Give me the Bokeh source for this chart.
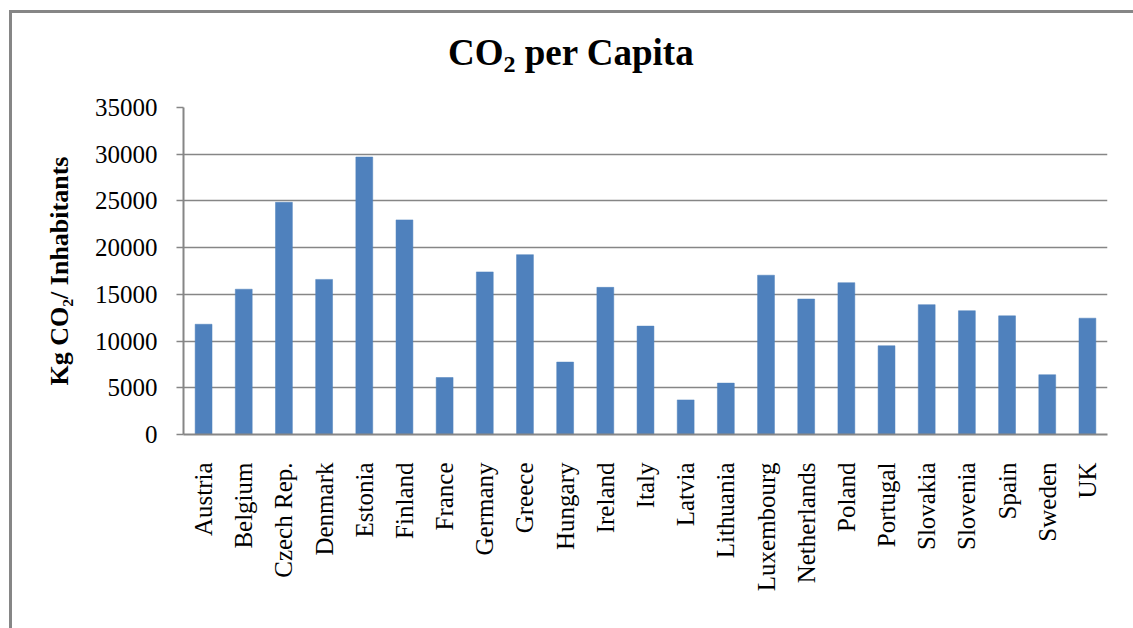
import math
from bokeh.plotting import figure
from bokeh.layouts import column
from bokeh.models import ColumnDataSource, FixedTicker, Div
from bokeh.embed import file_html
from bokeh.resources import INLINE

# CO2 emissions per inhabitant (kg), by country
countries = ["Austria", "Belgium", "Czech Rep.", "Denmark", "Estonia", "Finland",
             "France", "Germany", "Greece", "Hungary", "Ireland", "Italy",
             "Latvia", "Lithuania", "Luxembourg", "Netherlands", "Poland",
             "Portugal", "Slovakia", "Slovenia", "Spain", "Sweden", "UK"]
co2_per_capita = [11800, 15550, 24850, 16600, 29700, 22970,
                  6100, 17400, 19250, 7750, 15750, 11600,
                  3700, 5500, 17050, 14500, 16250,
                  9500, 13900, 13250, 12700, 6400, 12450]
y_ticks = [0, 5000, 10000, 15000, 20000, 25000, 30000, 35000]

FONT = "Liberation Serif"
GREY = "#868686"
EDGE = 3          # chart-area border thickness (top and left)
OFF_X, OFF_Y = 9, 10
INNER_W = 1133 - OFF_X - EDGE
INNER_H = 628 - OFF_Y - EDGE
HEADER_H = 80     # strip holding the chart title
FRAME_LEFT = 183

# chart title with a true subscript
header = Div(
    text=(f'<div style="padding:21px 0 0 {448 - OFF_X - EDGE}px; '
          f"font-family:'{FONT}'; font-size:37px; font-weight:bold; color:black; "
          'line-height:37px; white-space:nowrap;">'
          'CO<sub style="font-size:0.65em; vertical-align:-0.3em; line-height:0;">2</sub>'
          ' per Capita</div>'),
    width=INNER_W, height=HEADER_H, margin=0,
)

source = ColumnDataSource(data=dict(country=countries, value=co2_per_capita))

p = figure(
    x_range=countries, y_range=(0, 35000),
    width=INNER_W, height=INNER_H - HEADER_H,
    output_backend="svg", toolbar_location=None,
    min_border_left=FRAME_LEFT - OFF_X - EDGE, min_border_right=26,
    min_border_top=107 - OFF_Y - EDGE - HEADER_H, min_border_bottom=194,
)
p.margin = 0

p.vbar(x="country", top="value", width=0.42, source=source,
       fill_color="#4F81BD", line_color="#4F81BD", line_width=0.5)

# background and frame
p.outline_line_color = None
p.background_fill_color = "white"
p.border_fill_color = "white"

# horizontal gridlines
p.xgrid.grid_line_color = None
p.ygrid.grid_line_color = GREY
p.ygrid.grid_line_width = 1.4
p.ygrid.ticker = FixedTicker(ticks=y_ticks)

# y axis
p.yaxis.ticker = FixedTicker(ticks=y_ticks)
p.yaxis.axis_line_color = GREY
p.yaxis.axis_line_width = 2
p.yaxis.major_tick_line_color = GREY
p.yaxis.major_tick_line_width = 1.4
p.yaxis.major_tick_out = 7
p.yaxis.major_tick_in = 0
p.yaxis.minor_tick_line_color = None
p.yaxis.major_label_standoff = 19
p.yaxis.major_label_text_font = FONT
p.yaxis.major_label_text_font_size = "25px"
p.yaxis.major_label_text_color = "black"
p.yaxis.axis_label = "Kg CO\u2082/ Inhabitants"
p.yaxis.axis_label_text_font = FONT
p.yaxis.axis_label_text_font_size = "26px"
p.yaxis.axis_label_text_font_style = "bold"
p.yaxis.axis_label_text_color = "black"
p.yaxis.axis_label_standoff = 18

# x axis
p.xaxis.axis_line_color = GREY
p.xaxis.axis_line_width = 2
p.xaxis.major_tick_line_color = None
p.xaxis.minor_tick_line_color = None
p.xaxis.major_tick_out = 0
p.xaxis.major_label_orientation = math.pi / 2
p.xaxis.major_label_standoff = 28
p.xaxis.major_label_text_font = FONT
p.xaxis.major_label_text_font_size = "25px"
p.xaxis.major_label_text_color = "black"

chart = column(header, p, spacing=0)
chart.margin = (OFF_Y, 0, 0, OFF_X)
chart.styles = {"border-top": f"{EDGE}px solid {GREY}",
                "border-left": f"{EDGE}px solid {GREY}",
                "background-color": "white"}

open("out.html", "w").write(file_html(chart, INLINE))
